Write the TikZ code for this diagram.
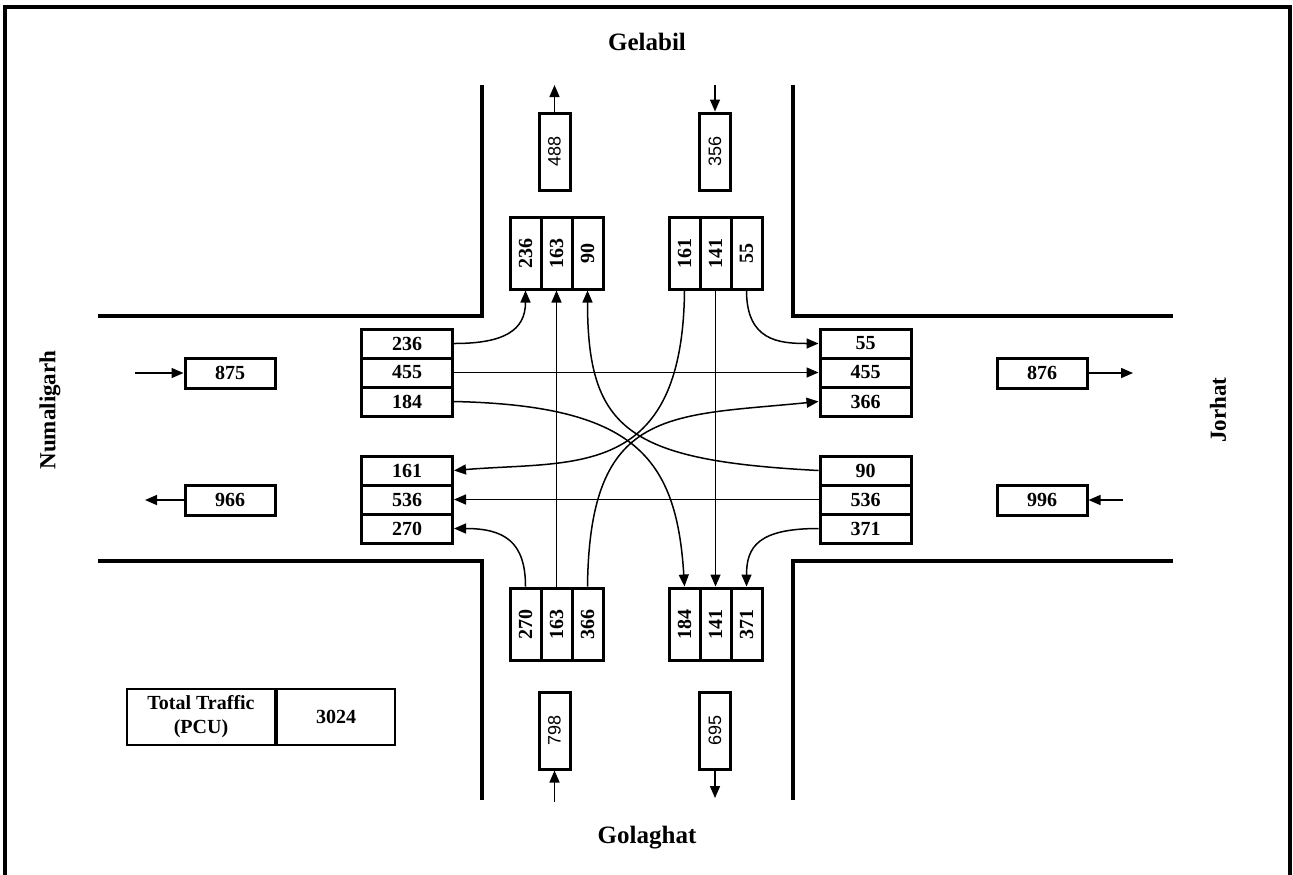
\documentclass[tikz,border=0pt]{standalone}
\usepackage{fontspec}
\setmainfont{Liberation Serif}
\setsansfont{Liberation Sans}
\usepackage{graphicx}
\usetikzlibrary{arrows.meta}

\begin{document}
\begin{tikzpicture}[x=0.5pt,y=-0.5pt,font=\fontsize{10.5}{12.5}\selectfont,
  hbox/.style={draw,line width=1.5pt,minimum width=45.5pt,minimum height=14.5pt,inner sep=0pt,font=\bfseries},
  vbox/.style={draw,line width=1.5pt,minimum width=15.5pt,minimum height=36pt,inner sep=0pt,font=\bfseries},
  sbox/.style={draw,line width=1.5pt,minimum width=15.5pt,minimum height=38.5pt,inner sep=0pt,font=\sffamily\fontsize{9}{11}\selectfont},
  ebox/.style={draw,line width=1.5pt,minimum width=45pt,minimum height=15pt,inner sep=0pt,font=\bfseries},
  place/.style={font=\bfseries\fontsize{12.5}{14}\selectfont},
  road/.style={line width=2pt},
  flow/.style={line width=0.75pt,-{Triangle[length=6pt,width=5pt]}}]
\useasboundingbox (0,0) rectangle (1293,874);

% frame
\draw[line width=2pt] (5,880) -- (5,7) -- (1290,7) -- (1290,880);

% roads
\draw[road] (98,316) -- (482,316) -- (482,85);
\draw[road] (793,85) -- (793,316) -- (1173,316);
\draw[road] (98,561) -- (482,561) -- (482,800);
\draw[road] (793,800) -- (793,561) -- (1173,561);

% place names
\node[place] (gelabil) at (647,42) {Gelabil};
\node[place] (golaghat) at (647,838) {Golaghat};
\node[place,font=\bfseries\fontsize{11.5}{13}\selectfont,rotate=90] (numaligarh) at (50,410) {Numaligarh};
\node[place,font=\bfseries\fontsize{11.5}{13}\selectfont,rotate=90] (jorhat) at (1218,410) {Jorhat};

% west approach
\foreach \v/\y in {236/343.5,455/372.5,184/401.5}
  \node[hbox] (w\v) at (407,\y) {\v};
\foreach \v/\y in {161/470.5,536/499.5,270/528.5}
  \node[hbox] (w\v) at (407,\y) {\v};

% east approach
\foreach \v/\y in {55/343.5,455/372.5,366/401.5}
  \node[hbox] (e\v) at (865.5,\y) {\v};
\foreach \v/\y in {90/470.5,536/499.5,371/528.5}
  \node[hbox] (e\v) at (865.5,\y) {\v};

% north approach
\foreach \v/\x in {236/525.5,163/556.5,90/587.5}
  \node[vbox] (n\v) at (\x,253) {\rotatebox{90}{\v}};
\foreach \v/\x in {161/684.5,141/715.5,55/746.5}
  \node[vbox] (n\v) at (\x,253) {\rotatebox{90}{\v}};

% south approach
\foreach \v/\x in {270/525.5,163/556.5,366/587.5}
  \node[vbox] (s\v) at (\x,624) {\rotatebox{90}{\v}};
\foreach \v/\x in {184/684.5,141/715.5,371/746.5}
  \node[vbox] (s\v) at (\x,624) {\rotatebox{90}{\v}};

% approach totals
\node[sbox] (b488) at (554.5,151.5) {\rotatebox{90}{488}};
\node[sbox] (b356) at (715,151.5) {\rotatebox{90}{356}};
\node[sbox] (b798) at (554.5,730.5) {\rotatebox{90}{798}};
\node[sbox] (b695) at (715,730.5) {\rotatebox{90}{695}};
\node[ebox] (b875) at (230,373) {875};
\node[ebox] (b966) at (230,500) {966};
\node[ebox] (b876) at (1042,373) {876};
\node[ebox] (b996) at (1042,500) {996};

\coordinate (t488) at (554.5,85);
\coordinate (t356) at (715,85);
\coordinate (t798) at (554.5,802);
\coordinate (t695) at (715,798);
\coordinate (t875) at (135,373);
\coordinate (t966) at (145,500);
\coordinate (t876) at (1133,373);
\coordinate (t996) at (1123,500);

\draw[flow] (b488.north) -- (t488);
\draw[flow] (t356) -- (b356.north);
\draw[flow] (t798) -- (b798.south);
\draw[flow] (b695.south) -- (t695);
\draw[flow] (t875) -- (b875.west);
\draw[flow] (b966.west) -- (t966);
\draw[flow] (b876.east) -- (t876);
\draw[flow] (t996) -- (b996.east);

% turning movements
\draw[flow] (w236.east) .. controls +(50,0) and +(0,40) .. (n236.south);
\draw[flow] (w455.east) -- (e455.west);
\draw[flow] (w184.east) .. controls +(180,4) and +(-8,-130) .. (s184.north);

\draw[flow] (n161.south) .. controls +(-2,190) and +(120,-10) .. (w161.east);
\draw[flow] (n141.south) -- (s141.north);
\draw[flow] (n55.south) .. controls +(0,50) and +(-40,0) .. (e55.west);

\draw[flow] (e90.west) .. controls +(-190,-10) and +(0,140) .. (n90.south);
\draw[flow] (e536.west) -- (w536.east);
\draw[flow] (e371.west) .. controls +(-60,0) and +(0,-40) .. (s371.north);

\draw[flow] (s270.north) .. controls +(0,-45) and +(50,0) .. (w270.east);
\draw[flow] (s163.north) -- (n163.south);
\draw[flow] (s366.north) .. controls +(2,-180) and +(-150,15) .. (e366.west);

% total
\node[draw,line width=1pt,minimum width=74pt,minimum height=28pt,align=center,font=\bfseries] (ttl) at (201,717) {Total Traffic\\(PCU)};
\node[draw,line width=1pt,minimum width=59pt,minimum height=28pt,font=\bfseries,anchor=west] (tval) at (ttl.east) {3024};
\end{tikzpicture}
\end{document}
